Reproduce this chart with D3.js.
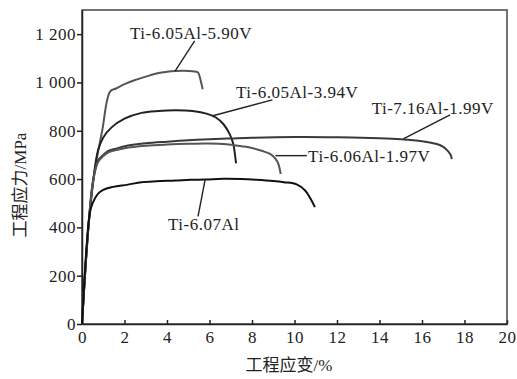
<!DOCTYPE html>
<html>
<head>
<meta charset="utf-8">
<script src="https://cdn.jsdelivr.net/npm/d3@7"></script>
<style>
  body { margin: 0; background: #fff; overflow: hidden; }
  svg { display: block; }
  text { font-family: "Liberation Serif", "Noto Sans CJK SC", serif; fill: #222; }
</style>
</head>
<body>
<svg id="chart"></svg>
<script>
// strain (%) / stress (MPa)
const strainA = [0, 0.3, 0.6, 0.95, 1.32, 1.6, 2.0, 2.5, 3.0, 3.6, 4.0, 4.4, 4.8, 5.2, 5.45, 5.55, 5.62, 5.68];
const stressA = [0, 400, 635, 800, 962, 975, 993, 1010, 1024, 1039, 1044, 1047, 1048, 1046, 1042, 1020, 995, 972];

const strainB = [0, 0.3, 0.55, 0.75, 1.0, 1.38, 2.0, 2.8, 3.6, 4.4, 5.2, 5.9, 6.3, 6.65, 6.95, 7.12, 7.2, 7.25];
const stressB = [0, 400, 610, 717, 772, 813, 850, 874, 882, 885, 882, 870, 855, 828, 786, 745, 700, 665];

const strainC = [0, 0.3, 0.52, 0.75, 1.0, 1.22, 1.6, 2.0, 3.0, 4.0, 5.0, 6.0, 7.0, 8.0, 10.0, 12.0, 14.0, 15.0, 16.0, 16.7, 17.0, 17.2, 17.35, 17.4];
const stressC = [0, 400, 594, 676, 700, 716, 726, 736, 748, 755, 761, 765, 768, 771, 774, 773, 769, 765, 757, 745, 733, 718, 700, 683];

const strainD = [0, 0.3, 0.52, 0.75, 1.0, 1.22, 1.6, 2.0, 3.0, 4.0, 5.0, 6.0, 6.8, 7.5, 7.9, 8.5, 8.85, 9.1, 9.24, 9.35];
const stressD = [0, 400, 590, 670, 695, 710, 720, 728, 738, 743, 746, 747, 744, 736, 731, 716, 704, 685, 663, 621];

const strainE = [0, 0.2, 0.36, 0.5, 0.75, 1.0, 1.38, 2.16, 2.8, 3.5, 4.4, 5.1, 5.8, 6.65, 7.5, 8.2, 9.0, 9.5, 10.1, 10.5, 10.75, 10.96];
const stressE = [0, 300, 456, 500, 539, 555, 566, 577, 587, 591, 594, 597, 598, 601, 600, 597, 592, 587, 578, 553, 520, 484];

const seriesNames = ["Ti-6.05Al-5.90V", "Ti-6.05Al-3.94V", "Ti-7.16Al-1.99V", "Ti-6.06Al-1.97V", "Ti-6.07Al"];

// label anchor (text start) and leader line ends, in data units
const labelX = [2.26, 7.25, 13.63, 10.64, 4.05];
const labelY = [1179, 936, 869, 669, 388];
const leaderFrom = [[4.38, 1047], [6.16, 862], [15.12, 766], [9.1, 697], [5.79, 596]];
const leaderTo = [[5.3, 1172], [8.96, 928], [17.32, 866], [10.58, 697], [5.46, 446]];

const xTicks = [0, 2, 4, 6, 8, 10, 12, 14, 16, 18, 20];
const yTicks = [0, 200, 400, 600, 800, 1000, 1200];
const yTickLabels = ["0", "200", "400", "600", "800", "1 000", "1 200"];

const xTitle = "工程应变/%";
const yTitle = "工程应力/MPa";

const width = 517, height = 379;
const margin = { top: 10, right: 10, bottom: 55, left: 82 };
const innerWidth = width - margin.left - margin.right;
const innerHeight = height - margin.top - margin.bottom;

const svg = d3.select("#chart").attr("width", width).attr("height", height);
const g = svg.append("g").attr("transform", `translate(${margin.left},${margin.top})`);

const x = d3.scaleLinear().domain([0, 20]).range([0, innerWidth]);
const y = d3.scaleLinear().domain([0, 1300]).range([innerHeight, 0]);

// frame
g.append("rect")
    .attr("width", innerWidth).attr("height", innerHeight)
    .attr("fill", "none").attr("stroke", "#444").attr("stroke-width", 1.5);

// axes
const xAxis = g.append("g")
    .attr("transform", `translate(0,${innerHeight})`)
    .call(d3.axisBottom(x).tickValues(xTicks).tickSize(-4).tickSizeOuter(0).tickPadding(7));
const yAxis = g.append("g")
    .call(d3.axisLeft(y).tickValues(yTicks).tickSize(5).tickSizeOuter(0).tickPadding(1)
        .tickFormat((d, i) => yTickLabels[i]));

[xAxis, yAxis].forEach(a => {
    a.selectAll("path, line").attr("stroke", "#222").attr("stroke-width", 1.5);
    a.selectAll("text")
        .style("font-family", '"Liberation Serif", serif')
        .style("font-size", "17px")
        .style("letter-spacing", "0.5px")
        .attr("fill", "#222");
});

// curves
const line = d3.line()
    .x(d => x(d[0]))
    .y(d => y(d[1]))
    .curve(d3.curveCatmullRom.alpha(0.5));

const curves = [
    d3.zip(strainA, stressA),
    d3.zip(strainB, stressB),
    d3.zip(strainC, stressC),
    d3.zip(strainD, stressD),
    d3.zip(strainE, stressE)
];
const colors = ["#555", "#222", "#3a3a3a", "#555", "#111"];

g.selectAll(".curve")
    .data(curves)
    .enter().append("path")
    .attr("class", "curve")
    .attr("d", line)
    .attr("fill", "none")
    .attr("stroke", (d, i) => colors[i])
    .attr("stroke-width", 2);

// leader lines and labels
seriesNames.forEach((name, i) => {
    g.append("line")
        .attr("x1", x(leaderFrom[i][0])).attr("y1", y(leaderFrom[i][1]))
        .attr("x2", x(leaderTo[i][0])).attr("y2", y(leaderTo[i][1]))
        .attr("stroke", "#222").attr("stroke-width", 1.4);

    g.append("text")
        .attr("x", x(labelX[i]))
        .attr("y", y(labelY[i]))
        .style("font-size", "17px")
        .style("letter-spacing", "0.5px")
        .text(name);
});

// axis titles
svg.append("text")
    .attr("x", 289).attr("y", 371)
    .attr("text-anchor", "middle")
    .style("font-size", "17px")
    .text(xTitle);

svg.append("text")
    .attr("transform", "translate(26,185) rotate(-90)")
    .attr("text-anchor", "middle")
    .style("font-size", "17px")
    .text(yTitle);
</script>
</body>
</html>
